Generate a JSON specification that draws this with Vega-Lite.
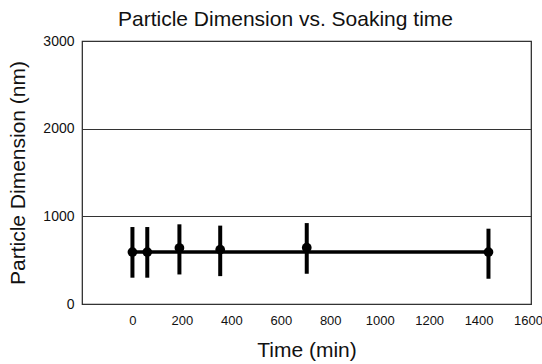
{
  "$schema": "https://vega.github.io/schema/vega-lite/v6.json",
  "width": 449,
  "height": 263,
  "autosize": {"type": "none"},
  "padding": {"left": 82, "top": 41, "right": 11, "bottom": 60},
  "background": "white",
  "config": {
    "font": "Liberation Sans",
    "view": {"stroke": "#222", "strokeWidth": 1.2}
  },
  "title": {
    "text": "Particle Dimension vs. Soaking time",
    "fontSize": 21,
    "fontWeight": "normal",
    "color": "#111",
    "offset": 4,
    "dx": -21
  },
  "datasets": {
    "pts": [
      {"time": 0, "size": 592, "lo": 300, "hi": 878},
      {"time": 60, "size": 592, "lo": 300, "hi": 878},
      {"time": 190, "size": 638, "lo": 337, "hi": 909},
      {"time": 355, "size": 620, "lo": 318, "hi": 894},
      {"time": 705, "size": 642, "lo": 345, "hi": 923},
      {"time": 1440, "size": 592, "lo": 288, "hi": 859}
    ],
    "mean": [
      {"time": 0, "size": 592},
      {"time": 1440, "size": 592}
    ]
  },
  "layer": [
    {
      "data": {"name": "pts"},
      "mark": {"type": "rule", "color": "black", "strokeWidth": 4},
      "encoding": {
        "x": {
          "field": "time", "type": "quantitative",
          "scale": {"domain": [-204, 1612], "nice": false, "zero": false},
          "axis": {
            "values": [0, 200, 400, 600, 800, 1000, 1200, 1400, 1600],
            "format": "d",
            "title": "Time (min)",
            "titleFontSize": 21, "titleFontWeight": "normal", "titleColor": "#111",
            "titlePadding": 12,
            "labelFontSize": 13, "labelColor": "#111", "labelPadding": 10,
            "ticks": false, "domain": false, "grid": false
          }
        },
        "y": {
          "field": "lo", "type": "quantitative",
          "scale": {"domain": [0, 3000], "nice": false},
          "axis": {
            "values": [0, 1000, 2000, 3000],
            "format": "d",
            "title": "Particle Dimension (nm)",
            "titleFontSize": 21, "titleFontWeight": "normal", "titleColor": "#111",
            "titlePadding": 14,
            "labelFontSize": 14, "labelColor": "#111", "labelPadding": 8,
            "ticks": false, "domain": false,
            "grid": true, "gridColor": "#333", "gridWidth": 1.2, "gridOpacity": 1
          }
        },
        "y2": {"field": "hi"}
      }
    },
    {
      "data": {"name": "mean"},
      "mark": {"type": "line", "color": "black", "strokeWidth": 3.5},
      "encoding": {
        "x": {"field": "time", "type": "quantitative"},
        "y": {"field": "size", "type": "quantitative"}
      }
    },
    {
      "data": {"name": "pts"},
      "mark": {"type": "circle", "color": "black", "opacity": 1, "size": 95},
      "encoding": {
        "x": {"field": "time", "type": "quantitative"},
        "y": {"field": "size", "type": "quantitative"}
      }
    }
  ]
}
